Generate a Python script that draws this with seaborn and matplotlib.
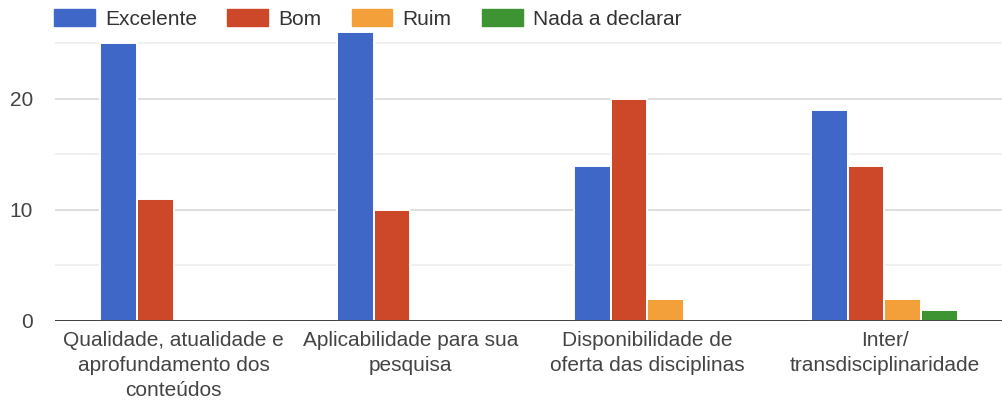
import matplotlib.pyplot as plt
import pandas as pd
import seaborn as sns
from matplotlib.ticker import MultipleLocator

categorias = [
    "Qualidade, atualidade e\naprofundamento dos\nconteúdos",
    "Aplicabilidade para sua\npesquisa",
    "Disponibilidade de\noferta das disciplinas",
    "Inter/\ntransdisciplinaridade",
]
series = ["Excelente", "Bom", "Ruim", "Nada a declarar"]
excelente = [25, 26, 14, 19]
bom = [11, 10, 20, 14]
ruim = [0, 0, 2, 2]
nada = [0, 0, 0, 1]
cores = ["#3e67c8", "#cd4828", "#f3a03a", "#3e9432"]

df = pd.DataFrame({
    "categoria": categorias * 4,
    "resposta": [s for s in series for _ in categorias],
    "valor": excelente + bom + ruim + nada,
})

sns.set_style("white")
plt.rcParams["font.family"] = ["Liberation Sans", "DejaVu Sans"]

fig = plt.figure(figsize=(10.03, 4.05), dpi=100)
ax = fig.add_axes([55 / 1003, 84 / 405, 948 / 1003, 311 / 405])

sns.barplot(data=df, x="categoria", y="valor", hue="resposta", order=categorias,
            hue_order=series, palette=cores, saturation=1, width=0.62,
            edgecolor="white", linewidth=1.4, ax=ax, legend=False, zorder=3)

ax.set_xlim(-0.5, 3.5)
ax.set_ylim(0, 28)
ax.yaxis.set_major_locator(MultipleLocator(10))
ax.yaxis.set_minor_locator(MultipleLocator(5))
ax.grid(axis="y", which="major", color="#d4d4d4", linewidth=1.1, zorder=0)
ax.grid(axis="y", which="minor", color="#ececec", linewidth=1.1, zorder=0)
ax.set_axisbelow(True)
for s in ["top", "right", "left", "bottom"]:
    ax.spines[s].set_visible(False)
ax.axhline(0, color="#333333", linewidth=1.3, zorder=4)

ax.set_xlabel("")
ax.set_ylabel("")
ax.tick_params(axis="y", which="both", length=0, pad=16, labelsize=15, labelcolor="#444444")
ax.tick_params(axis="x", length=0, pad=7, labelsize=15, labelcolor="#444444")
for lbl in ax.get_xticklabels():
    lbl.set_linespacing(1.42)

handles = [plt.Rectangle((0, 0), 1, 1, color=c) for c in cores]
fig.legend(handles, series, loc="upper left", bbox_to_anchor=(54 / 1003, 1 - 9 / 405),
           ncol=4, frameon=False, fontsize=15, handlelength=1.95, handleheight=0.9,
           handletextpad=0.5, columnspacing=1.45, borderpad=0, borderaxespad=0,
           labelcolor="#333333")

fig.savefig("out.png", dpi=100)
